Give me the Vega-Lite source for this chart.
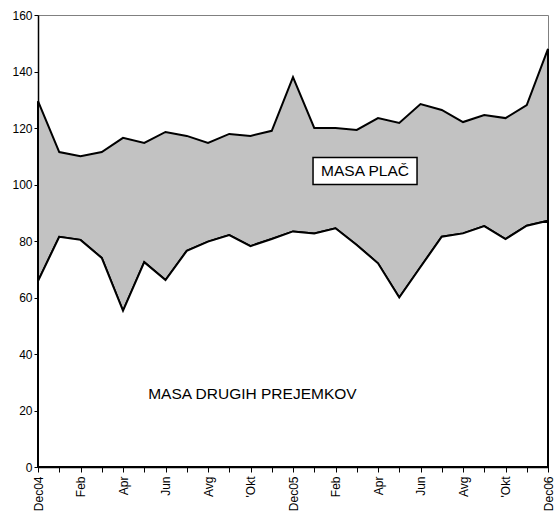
{
  "$schema": "https://vega.github.io/schema/vega-lite/v6.json",
  "autosize": "none",
  "width": 510,
  "height": 452,
  "padding": {"left": 38, "top": 15, "right": 7, "bottom": 47},
  "background": "white",
  "config": {
    "font": "Liberation Sans",
    "view": {"stroke": "#808080", "strokeWidth": 1},
    "axis": {"grid": false, "domainColor": "#000", "domainWidth": 1.5, "tickColor": "#000", "tickWidth": 1, "labelColor": "#000", "labelFont": "Liberation Sans", "labelFontSize": 12, "title": null}
  },
  "datasets": {
    "series": [
      {"i": 0, "mesec": "Dec04", "drugi": 65.8, "skupaj": 129.5},
      {"i": 1, "mesec": "Jan", "drugi": 81.5, "skupaj": 111.5},
      {"i": 2, "mesec": "Feb", "drugi": 80.4, "skupaj": 110.0},
      {"i": 3, "mesec": "Mar", "drugi": 74.0, "skupaj": 111.5},
      {"i": 4, "mesec": "Apr", "drugi": 55.3, "skupaj": 116.5},
      {"i": 5, "mesec": "Maj", "drugi": 72.5, "skupaj": 114.7},
      {"i": 6, "mesec": "Jun", "drugi": 66.2, "skupaj": 118.6},
      {"i": 7, "mesec": "Jul", "drugi": 76.5, "skupaj": 117.2},
      {"i": 8, "mesec": "Avg", "drugi": 79.8, "skupaj": 114.7},
      {"i": 9, "mesec": "Sep", "drugi": 82.1, "skupaj": 117.9},
      {"i": 10, "mesec": "'Okt", "drugi": 78.2, "skupaj": 117.2},
      {"i": 11, "mesec": "Nov", "drugi": 80.7, "skupaj": 119.0},
      {"i": 12, "mesec": "Dec05", "drugi": 83.4, "skupaj": 138.0},
      {"i": 13, "mesec": "Jan", "drugi": 82.7, "skupaj": 120.0},
      {"i": 14, "mesec": "Feb", "drugi": 84.5, "skupaj": 120.0},
      {"i": 15, "mesec": "Mar", "drugi": 78.6, "skupaj": 119.3},
      {"i": 16, "mesec": "Apr", "drugi": 72.1, "skupaj": 123.5},
      {"i": 17, "mesec": "Maj", "drugi": 60.0, "skupaj": 121.8},
      {"i": 18, "mesec": "Jun", "drugi": 70.8, "skupaj": 128.5},
      {"i": 19, "mesec": "Jul", "drugi": 81.5, "skupaj": 126.4},
      {"i": 20, "mesec": "Avg", "drugi": 82.7, "skupaj": 122.1},
      {"i": 21, "mesec": "Sep", "drugi": 85.3, "skupaj": 124.6},
      {"i": 22, "mesec": "'Okt", "drugi": 80.7, "skupaj": 123.5},
      {"i": 23, "mesec": "Nov", "drugi": 85.4, "skupaj": 128.1},
      {"i": 24, "mesec": "Dec06", "drugi": 87.2, "skupaj": 148.0}
    ],
    "labels": [
      {"i": 15.39, "v": 104.8, "text": "MASA PLAČ", "box": true},
      {"i": 10.09, "v": 25.8, "text": "MASA DRUGIH PREJEMKOV", "box": false}
    ]
  },
  "encoding": {
    "x": {
      "field": "i", "type": "quantitative",
      "scale": {"domain": [0, 24], "nice": false, "zero": false},
      "axis": {
        "values": [0,1,2,3,4,5,6,7,8,9,10,11,12,13,14,15,16,17,18,19,20,21,22,23,24],
        "labelExpr": "['Dec04','','Feb','','Apr','','Jun','','Avg','',\"'Okt\",'','Dec05','','Feb','','Apr','','Jun','','Avg','',\"'Okt\",'','Dec06'][datum.value]",
        "labelAngle": -90, "labelAlign": "right", "labelBaseline": "middle",
        "tickSize": 5, "labelPadding": 4, "labelOverlap": false, "labelBound": false, "labelFlush": false
      }
    }
  },
  "layer": [
    {
      "data": {"name": "series"},
      "mark": {"type": "area", "fill": "#c2c2c2", "stroke": "#000", "strokeWidth": 2, "opacity": 1, "strokeJoin": "miter"},
      "encoding": {
        "y": {"field": "skupaj", "type": "quantitative",
          "scale": {"domain": [0, 160], "nice": false},
          "axis": {"values": [0,20,40,60,80,100,120,140,160], "tickSize": 4, "labelPadding": 2}},
        "y2": {"field": "drugi"}
      }
    },
    {
      "data": {"name": "series"},
      "mark": {"type": "area", "fill": "#ffffff", "stroke": "#000", "strokeWidth": 2, "opacity": 1, "strokeJoin": "miter"},
      "encoding": {
        "y": {"field": "drugi", "type": "quantitative"}
      }
    },
    {
      "data": {"name": "labels"},
      "transform": [{"filter": "datum.box"}],
      "mark": {"type": "point", "shape": "M-1,-0.2596L1,-0.2596L1,0.2596L-1,0.2596Z", "size": 10816, "filled": true, "fill": "#fff", "stroke": "#000", "strokeWidth": 1.5, "opacity": 1},
      "encoding": {"y": {"field": "v", "type": "quantitative"}}
    },
    {
      "data": {"name": "labels"},
      "mark": {"type": "text", "fontSize": 15.5, "font": "Liberation Sans", "color": "#000", "align": "center", "baseline": "middle"},
      "encoding": {
        "y": {"field": "v", "type": "quantitative"},
        "text": {"field": "text"}
      }
    }
  ]
}
